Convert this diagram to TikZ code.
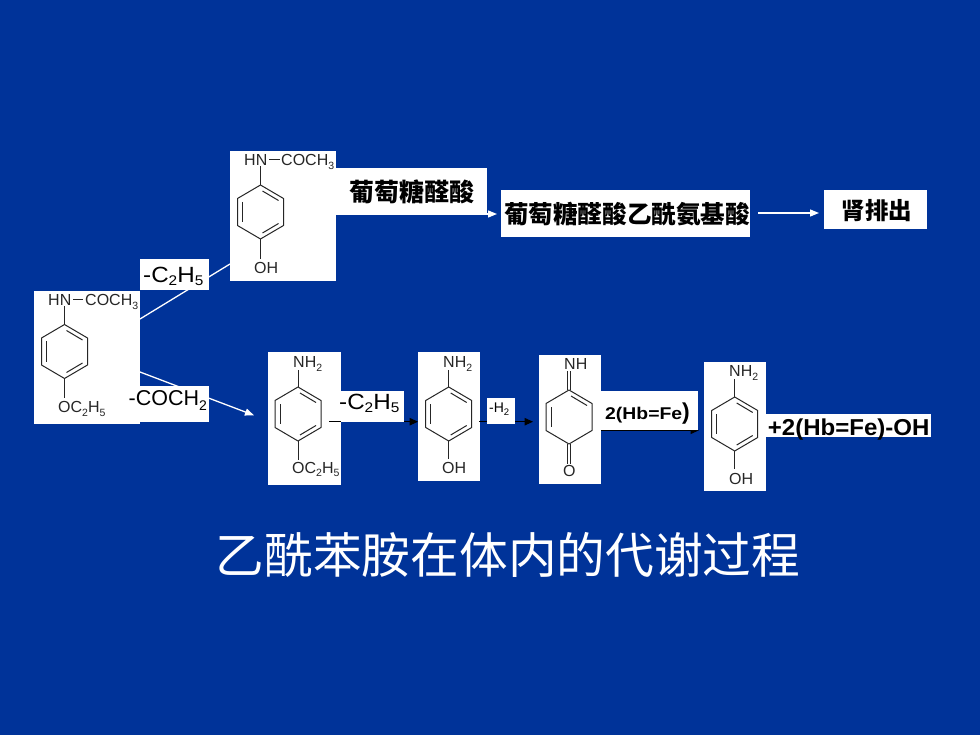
\documentclass[tikz,border=0pt]{standalone}
\usepackage{fontspec}
\setmainfont{Liberation Sans}
\newfontfamily\cjk{Noto Sans CJK SC}
\usetikzlibrary{arrows.meta}
\definecolor{bg}{HTML}{003399}
\definecolor{bond}{HTML}{262626}
\tikzset{
  whitebox/.style={fill=white,draw=none},
  bondline/.style={draw=bond,line width=1pt},
  chem/.style={inner sep=0pt,anchor=base west,text=bond,font=\fontsize{16}{16}\selectfont},
  lab/.style={inner sep=0pt,text=black,anchor=base west},
  cjklab/.style={inner sep=0pt,text=black,anchor=center},
  wline/.style={draw=white,line width=1.3pt},
  warrow/.style={wline,-{Triangle[length=9pt,width=7pt]}},
  karrow/.style={draw=black,line width=1.1pt,-{Triangle[length=8.5pt,width=7.5pt]}},
}
\newcommand{\benzring}[2]{%
  \begin{scope}[shift={(#1,#2)}]
    \draw[bondline,line join=round] (0,-27)--(23,-13.5)--(23,13.5)--(0,27)--(-23,13.5)--(-23,-13.5)--cycle;
    \draw[bondline] (-18,-10)--(-18,10);
    \draw[bondline] (2,-21)--(18,-11.5);
    \draw[bondline] (2,21)--(18,11.5);
  \end{scope}}
% chemistry subscript (small, dropped)
\newcommand{\csub}[1]{\raisebox{-3.5pt}{\fontsize{10.5}{10.5}\selectfont #1}}
\newcommand{\lsub}[1]{\raisebox{-3pt}{\fontsize{14}{14}\selectfont #1}}
\begin{document}
\begin{tikzpicture}[x=1pt,y=-1pt]
\useasboundingbox (0,0) rectangle (980,735);
\fill[bg] (0,0) rectangle (980,735);

% connectors behind boxes
\coordinate (a1) at (140,319);
\coordinate (a2) at (230,264);
\coordinate (b1) at (140,372);
\coordinate (b2) at (254,415.3);
\draw[wline] (a1)--(a2);
\draw[warrow] (b1)--(b2);

% white boxes
\fill[whitebox] (34,291) rectangle (140,424);
\fill[whitebox] (230,151) rectangle (336,281);
\fill[whitebox] (268,352) rectangle (341,485);
\fill[whitebox] (418,352) rectangle (480,481);
\fill[whitebox] (539,355) rectangle (601,484);
\fill[whitebox] (704,362) rectangle (766,491);

% molecule 1
\benzring{64.5}{351.5}
\draw[bondline] (64.5,324.5)--(64.5,306);
\draw[bondline] (64.5,378.5)--(64.5,398);
\node[chem] (m1h) at (48,305.7) {HN};
\node[chem] (m1a) at (85,305.7) {COCH\csub{3}};
\draw[bondline] (73,300)--(83,300);
\node[chem] (m1b) at (58,412.7) {OC\csub{2}H\csub{5}};

% molecule 2
\benzring{260.5}{212}
\draw[bondline] (260.5,185)--(260.5,166);
\draw[bondline] (260.5,239)--(260.5,259);
\node[chem] (m2h) at (244,165.7) {HN};
\node[chem] (m2a) at (281,165.7) {COCH\csub{3}};
\draw[bondline] (269,160)--(279.5,160);
\node[chem] (m2b) at (254,273.3) {OH};

% molecule 3
\benzring{298}{414}
\draw[bondline] (298,387)--(298,370);
\draw[bondline] (298,441)--(298,459.5);
\node[chem] (m3a) at (293,367.7) {NH\csub{2}};
\node[chem] (m3b) at (292,473) {OC\csub{2}H\csub{5}};

% molecule 4
\benzring{448.7}{414}
\draw[bondline] (448.7,387)--(448.7,370);
\draw[bondline] (448.7,441)--(448.7,459);
\node[chem] (m4a) at (443,367.7) {NH\csub{2}};
\node[chem] (m4b) at (442,473) {OH};

% molecule 5 (quinone imine)
\begin{scope}[shift={(569,417)}]
  \draw[bondline,line join=round] (0,-27)--(23,-13.5)--(23,13.5)--(0,27)--(-23,13.5)--(-23,-13.5)--cycle;
  \draw[bondline] (-18,-10)--(-18,10);
  \draw[bondline] (2,-21)--(18,-11.5);
  \draw[bondline] (-1.6,-27)--(-1.6,-46);
  \draw[bondline] (1.6,-27)--(1.6,-46);
  \draw[bondline] (-1.6,27)--(-1.6,47);
  \draw[bondline] (1.6,27)--(1.6,47);
\end{scope}
\node[chem] (m5a) at (564,370) {NH};
\node[chem] (m5b) at (563,476) {O};

% molecule 6
\benzring{734.7}{424}
\draw[bondline] (734.7,397)--(734.7,378.5);
\draw[bondline] (734.7,451)--(734.7,469);
\node[chem] (m6a) at (729,377) {NH\csub{2}};
\node[chem] (m6b) at (729,484) {OH};

% reaction arrows
\coordinate (r1) at (329,421.7);
\coordinate (r2) at (418,421.7);
\coordinate (r3) at (479,421.7);
\coordinate (r4) at (533,421.7);
\coordinate (r5) at (601,430.3);
\coordinate (r6) at (699,430.3);
\draw[karrow] (r1)--(r2);
\draw[karrow] (r3)--(r4);
\draw[karrow] (r5)--(r6);

% label boxes
\fill[whitebox] (140,259) rectangle (209,290);
\fill[whitebox] (140,386) rectangle (209,422);
\fill[whitebox] (336,168) rectangle (487,213);
\fill[whitebox] (341,391) rectangle (404,421.5);
\fill[whitebox] (487,398) rectangle (515,424);
\fill[whitebox] (601,391) rectangle (698,430);
\fill[whitebox] (766,414) rectangle (931,437);
\fill[whitebox] (501,190) rectangle (750,237);
\fill[whitebox] (824,190) rectangle (927,229);

\coordinate (g1) at (336,214);
\coordinate (g2) at (497,214);
\coordinate (g3) at (758,213);
\coordinate (g4) at (819,213);
\draw[warrow] (g1)--(g2);
\draw[warrow] (g3)--(g4);

\node[lab,font=\fontsize{22}{22}\selectfont] (l1) at (143,283) {\scalebox{1.1}[1]{-C\lsub{2}H\lsub{5}}};
\node[lab,font=\fontsize{21.5}{21}\selectfont] (l2) at (128.5,405.7) {-COCH\raisebox{-5pt}{\fontsize{14}{14}\selectfont 2}};
\node[lab,font=\fontsize{22}{22}\selectfont] (l3) at (339,409) {\scalebox{1.1}[1]{-C\lsub{2}H\lsub{5}}};
\node[lab,font=\fontsize{14}{14}\selectfont] (l4) at (489,412.7) {-H\raisebox{-2.5pt}{\fontsize{9.5}{9.5}\selectfont 2}};
\node[lab,font=\bfseries\fontsize{17}{17}\selectfont] (l5) at (605,419) {\scalebox{1.14}[1]{2(Hb=Fe}{\fontsize{23}{23}\selectfont)}};
\node[lab,font=\bfseries\fontsize{23}{23}\selectfont] (l6) at (767.7,435) {\scalebox{1.045}[1]{+2(Hb=Fe)-OH}};
\node[cjklab,font=\cjk\bfseries\fontsize{25}{25}\selectfont] (c1) at (412,192) {葡萄糖醛酸};
\node[cjklab,font=\cjk\bfseries\fontsize{24.6}{25}\selectfont] (c2) at (627,214.5) {葡萄糖醛酸乙酰氨基酸};
\node[cjklab,font=\cjk\bfseries\fontsize{23.5}{25}\selectfont] (c3) at (877,210.5) {肾排出};
\node[cjklab,text=white,font=\cjk\fontsize{48.7}{50}\selectfont] (t) at (508,555) {乙酰苯胺在体内的代谢过程};
\end{tikzpicture}
\end{document}
